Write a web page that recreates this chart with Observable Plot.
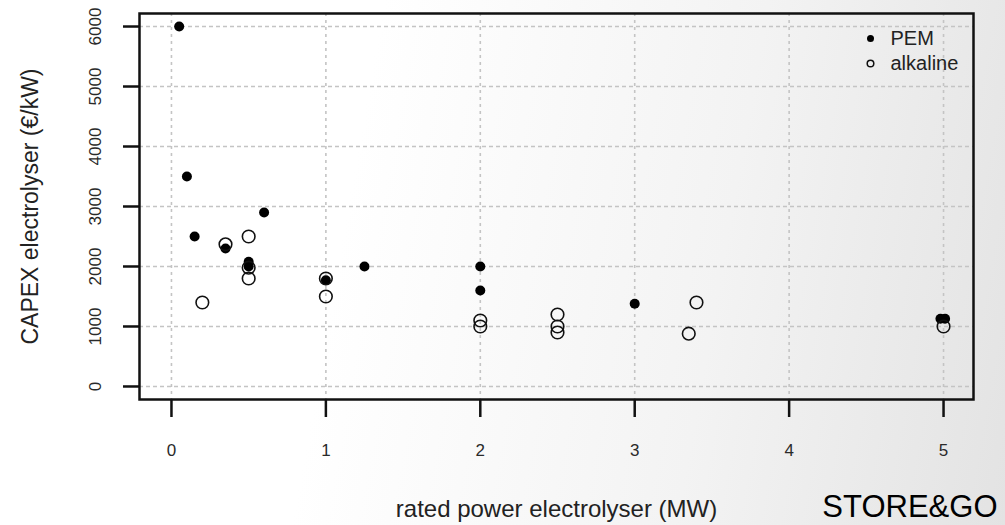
<!DOCTYPE html>
<html>
<head>
<meta charset="utf-8">
<script src="https://cdn.jsdelivr.net/npm/d3@7"></script>
<script src="https://cdn.jsdelivr.net/npm/@observablehq/plot@0.6"></script>
<style>
  html, body { margin: 0; padding: 0; }
  body {
    width: 1005px; height: 525px; overflow: hidden;
    background: linear-gradient(100deg, #ffffff 0%, #ffffff 35%, #f3f3f3 70%, #e3e3e3 100%);
    font-family: "Liberation Sans", Arial, sans-serif;
  }
</style>
</head>
<body>
<div id="chart"></div>
<script>
// PEM electrolysers (filled)
const pemPower = [0.05, 0.1, 0.15, 0.35, 0.5, 0.5, 0.6, 1.0, 1.25, 2, 2, 3, 4.98, 5.01];
const pemCapex = [6000, 3500, 2500, 2300, 2080, 2000, 2900, 1770, 2000, 2000, 1600, 1380, 1130, 1130];
// alkaline electrolysers (open)
const alkPower = [0.2, 0.35, 0.5, 0.5, 0.5, 1.0, 1.0, 2, 2, 2.5, 2.5, 2.5, 3.35, 3.4, 5];
const alkCapex = [1400, 2370, 2500, 1980, 1800, 1800, 1500, 1100, 1000, 1200, 1000, 900, 880, 1400, 1000];

const xTicks = [0, 1, 2, 3, 4, 5];
const yTicks = [0, 1000, 2000, 3000, 4000, 5000, 6000];
const legendLabels = ["PEM", "alkaline"];
const xTitle = "rated power electrolyser (MW)";
const yTitle = "CAPEX electrolyser (€/kW)";
const brand = "STORE&GO";

const pem = pemPower.map((p, i) => ({power: p, capex: pemCapex[i]}));
const alk = alkPower.map((p, i) => ({power: p, capex: alkCapex[i]}));

const font = "Liberation Sans, Arial, sans-serif";

const chart = Plot.plot({
  width: 1005,
  height: 525,
  marginLeft: 139,
  marginRight: 32,
  marginTop: 13,
  marginBottom: 126,
  style: {background: "transparent", fontFamily: font, overflow: "visible"},
  x: {domain: [-0.207, 5.194]},
  y: {domain: [-217, 6217]},
  marks: [
    Plot.gridX(xTicks, {stroke: "#c4c4c4", strokeOpacity: 1, strokeWidth: 1.6, strokeDasharray: "3,4"}),
    Plot.gridY(yTicks, {stroke: "#c4c4c4", strokeOpacity: 1, strokeWidth: 1.6, strokeDasharray: "4,3"}),
    Plot.axisX(xTicks, {tickSize: 18, tickFormat: () => "", stroke: "#111", strokeWidth: 2.5, label: null}),
    Plot.axisY(yTicks, {tickSize: 16, tickFormat: () => "", stroke: "#111", strokeWidth: 2.5, label: null}),
    Plot.text(xTicks, {x: d => d, text: d => String(d), frameAnchor: "bottom", lineAnchor: "middle", dy: 51, fontSize: 17, fill: "#2a2a2a"}),
    Plot.text(yTicks, {y: d => d, text: d => String(d), frameAnchor: "left", textAnchor: "middle", lineAnchor: "middle", dx: -44, rotate: -90, fontSize: 17, fill: "#2a2a2a"}),
    Plot.frame({stroke: "#111", strokeWidth: 2.5}),
    Plot.dot(pem, {x: "power", y: "capex", r: 5, fill: "#000", stroke: "none"}),
    Plot.dot(alk, {x: "power", y: "capex", r: 6.3, fill: "none", stroke: "#111", strokeWidth: 1.6}),
    // legend
    Plot.dot([legendLabels[0]], {frameAnchor: "top-right", dx: -103, dy: 25, r: 3.5, fill: "#000"}),
    Plot.dot([legendLabels[1]], {frameAnchor: "top-right", dx: -103, dy: 50, r: 3.3, fill: "none", stroke: "#111", strokeWidth: 1.5}),
    Plot.text([legendLabels[0]], {frameAnchor: "top-right", dx: -83, dy: 25, text: d => d, textAnchor: "start", lineAnchor: "middle", fontSize: 20, fill: "#222"}),
    Plot.text([legendLabels[1]], {frameAnchor: "top-right", dx: -83, dy: 50, text: d => d, textAnchor: "start", lineAnchor: "middle", fontSize: 20, fill: "#222"}),
    // axis titles
    Plot.text([xTitle], {frameAnchor: "bottom", dy: 117, lineAnchor: "bottom", textAnchor: "middle", text: d => d, fontSize: 24, fill: "#222"}),
    Plot.text([yTitle], {frameAnchor: "left", dx: -109, rotate: -90, textAnchor: "middle", lineAnchor: "middle", text: d => d, fontSize: 23, fill: "#222"}),
    Plot.text([brand], {frameAnchor: "bottom-right", dx: 24, dy: 117, lineAnchor: "bottom", textAnchor: "end", text: d => d, fontSize: 31, fill: "#000"})
  ]
});
document.getElementById("chart").appendChild(chart);
</script>
</body>
</html>
